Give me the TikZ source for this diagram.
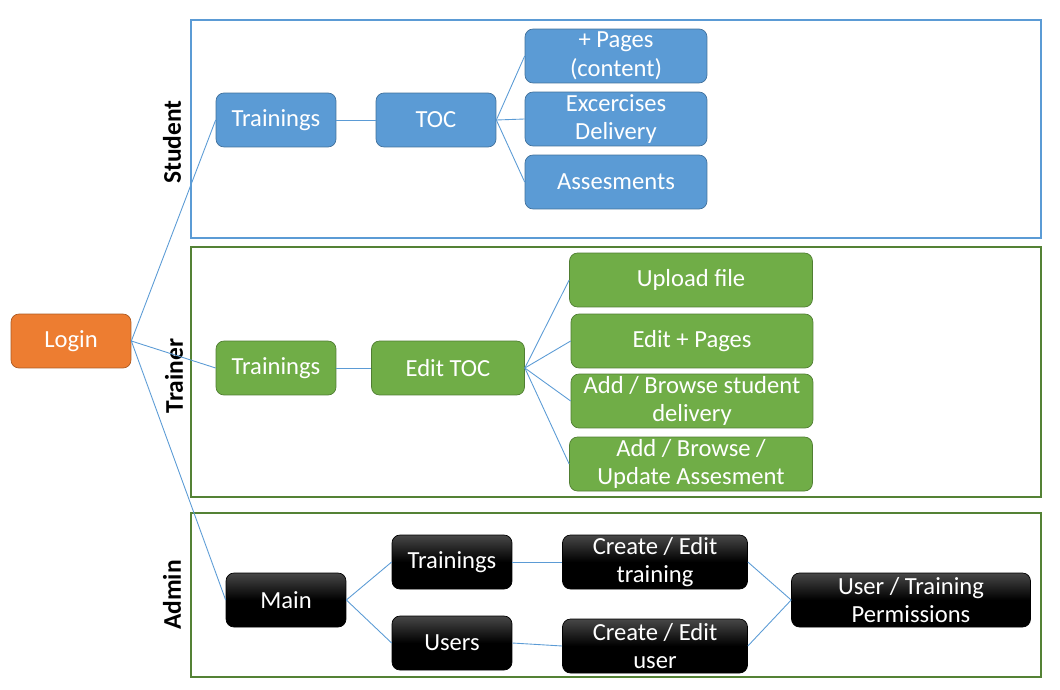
\documentclass[tikz,border=0pt]{standalone}
\usepackage{fontspec}
\setmainfont{Carlito}
\usetikzlibrary{calc}

\definecolor{stublue}{HTML}{5B9BD5}
\definecolor{stuedge}{HTML}{41719C}
\definecolor{trgreen}{HTML}{70AD47}
\definecolor{tredge}{HTML}{507E32}
\definecolor{framegreen}{HTML}{548235}
\definecolor{loginorange}{HTML}{ED7D31}
\definecolor{loginedge}{HTML}{AE5A21}

\tikzset{
	box/.style={rectangle, rounded corners=0.16cm, text=white, align=center, minimum height=1.08cm, inner sep=1pt, font=\fontsize{14}{16.3}\selectfont},
	stubox/.style={box, fill=stublue, draw=stuedge},
	trbox/.style={box, fill=trgreen, draw=tredge},
	admbox/.style={box, draw=black, top color=black!72, bottom color=black, middle color=black},
	loginbox/.style={box, fill=loginorange, draw=loginedge},
	link/.style={draw=stublue, line width=0.5pt},
	role/.style={rotate=90, font=\bfseries\fontsize{14.5}{17}\selectfont}
}

\begin{document}
\begin{tikzpicture}[x=0.02cm, y=-0.02cm]
		%%%%% START %%%%%
		\useasboundingbox (0, 0) rectangle (1060, 689);
		
		% frames
		\draw[stublue, line width=0.75pt] (191, 20) rectangle (1041, 238);
		\draw[framegreen, line width=0.75pt] (191, 247) rectangle (1041, 497);
		\draw[framegreen, line width=0.75pt] (191, 513) rectangle (1041, 677);
		
		\node[role] (student) at (172, 142) {Student};
		\node[role] (trainer) at (174, 376) {Trainer};
		\node[role] (admin) at (172, 595) {Admin};
		
		\node[loginbox, minimum width=2.4cm] (login) at (71, 341) {Login};
		
		% student
		\node[stubox, minimum width=2.4cm] (stutrain) at (276, 120) {Trainings};
		\node[stubox, minimum width=2.4cm] (toc) at (436, 120) {TOC};
		\node[stubox, minimum width=3.64cm] (pages) at (616, 56) {+ Pages\\(content)};
		\node[stubox, minimum width=3.64cm] (exdel) at (616, 119) {Excercises\\Delivery};
		\node[stubox, minimum width=3.64cm] (assess) at (616, 182) {Assesments};
		
		% trainer
		\node[trbox, minimum width=2.4cm] (trtrain) at (276, 368) {Trainings};
		\node[trbox, minimum width=3.06cm] (edittoc) at (448, 368) {Edit TOC};
		\node[trbox, minimum width=4.86cm] (upload) at (691, 280) {Upload file};
		\node[trbox, minimum width=4.84cm] (editpages) at (692, 341) {Edit + Pages};
		\node[trbox, minimum width=4.84cm] (browsedel) at (692, 401) {Add / Browse student\\delivery};
		\node[trbox, minimum width=4.86cm] (browseass) at (691, 464) {Add / Browse /\\Update Assesment};
		
		% admin
		\node[admbox, minimum width=2.4cm] (main) at (286, 600) {Main};
		\node[admbox, minimum width=2.4cm] (admtrain) at (452, 562) {Trainings};
		\node[admbox, minimum width=2.4cm] (users) at (452, 643) {Users};
		\node[admbox, minimum width=3.7cm] (edittrain) at (655, 562) {Create / Edit\\training};
		\node[admbox, minimum width=3.7cm] (edituser) at (655, 646) {Create / Edit\\user};
		\node[admbox, minimum width=4.78cm] (perm) at (911, 600) {User / Training\\Permissions};
		
		% links
		\draw[link] (login.east) -- (stutrain.west);
		\draw[link] (login.east) -- (trtrain.west);
		\draw[link] (login.east) -- (main.west);
		
		\draw[link] (stutrain.east) -- (toc.west);
		\foreach \n in {pages, exdel, assess}
			\draw[link] (toc.east) -- (\n.west);
		
		\draw[link] (trtrain.east) -- (edittoc.west);
		\foreach \n in {upload, editpages, browsedel, browseass}
			\draw[link] (edittoc.east) -- (\n.west);
		
		\draw[link] (main.east) -- (admtrain.west);
		\draw[link] (main.east) -- (users.west);
		\draw[link] (admtrain.east) -- (edittrain.west);
		\draw[link] (users.east) -- (edituser.west);
		\draw[link] (edittrain.east) -- (perm.west);
		\draw[link] (edituser.east) -- (perm.west);
		%%%%% END %%%%%
	\end{tikzpicture}
\end{document}
